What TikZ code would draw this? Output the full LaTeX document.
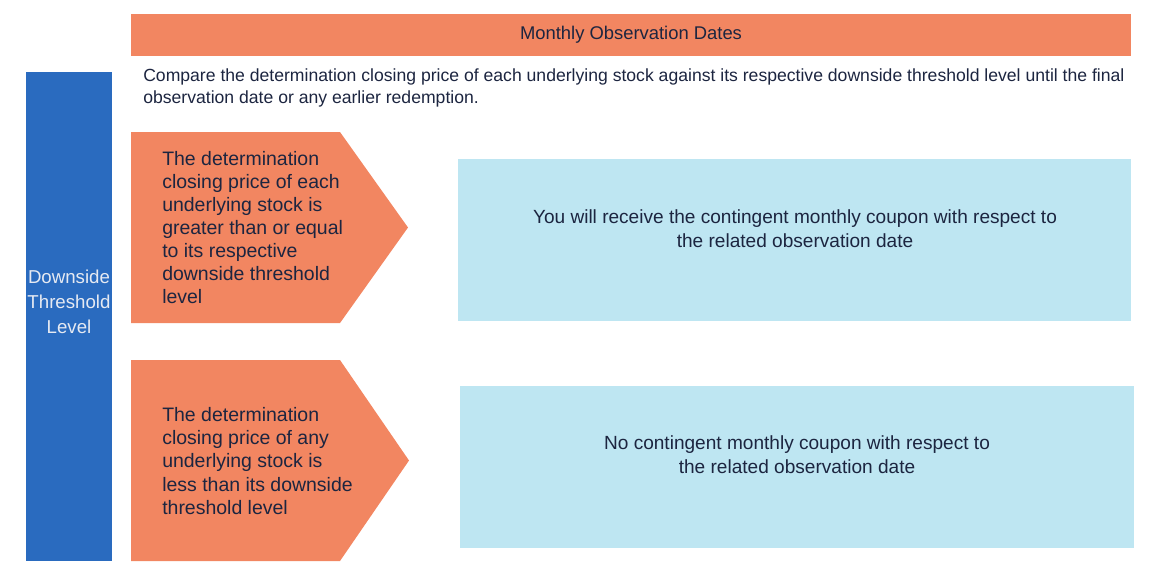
\documentclass[tikz,border=0pt]{standalone}
\usepackage{fontspec}
\setmainfont{Liberation Sans}
\definecolor{orng}{HTML}{F28661}
\definecolor{dblue}{HTML}{2A6BBF}
\definecolor{lblue}{HTML}{BEE6F2}
\definecolor{ink}{HTML}{1C2540}
\definecolor{pale}{HTML}{E6EAF2}
\tikzset{
  txt/.style={text=ink, inner sep=0pt},
  chev/.style={txt, anchor=west, align=left, font=\fontsize{14.6}{17.3}\selectfont},
  res/.style={txt, align=center, font=\fontsize{14.3}{18}\selectfont},
}
\begin{document}
\begin{tikzpicture}[x=0.75pt,y=-0.75pt]
\useasboundingbox (0,0) rectangle (1152,576);
% top bar
\fill[orng] (131,14) rectangle (1131,56);
\node[txt, font=\fontsize{13.8}{16}\selectfont] (top) at (631,35) {Monthly Observation Dates};
% left blue bar
\fill[dblue] (26,72) rectangle (112,561);
\node[inner sep=0pt, text=pale, align=center, font=\fontsize{14}{18.75}\selectfont] (dtl) at (69,302) {Downside\\Threshold\\Level};
% intro text
\node[txt, anchor=north west, align=left, font=\fontsize{13.2}{16.5}\selectfont] (intro) at (143,68)
  {Compare the determination closing price of each underlying stock against its respective downside threshold level until the final\\observation date or any earlier redemption.};
% chevron 1
\fill[orng] (131,132) -- (340,132) -- (408,227.5) -- (340,323) -- (131,323) -- cycle;
\node[chev] (c1) at (162,227.5) {The determination\\closing price of each\\underlying stock is\\greater than or equal\\to its respective\\downside threshold\\level};
% chevron 2
\fill[orng] (131,360) -- (340,360) -- (409,460.5) -- (340,561) -- (131,561) -- cycle;
\node[chev] (c2) at (162,461) {The determination\\closing price of any\\underlying stock is\\less than its downside\\threshold level};
% result boxes
\fill[lblue] (458,159) rectangle (1131,321);
\node[res] (r1) at (795,229) {You will receive the contingent monthly coupon with respect to\\the related observation date};
\fill[lblue] (460,386) rectangle (1134,548);
\node[res] (r2) at (797,455) {No contingent monthly coupon with respect to\\the related observation date};
\end{tikzpicture}
\end{document}
